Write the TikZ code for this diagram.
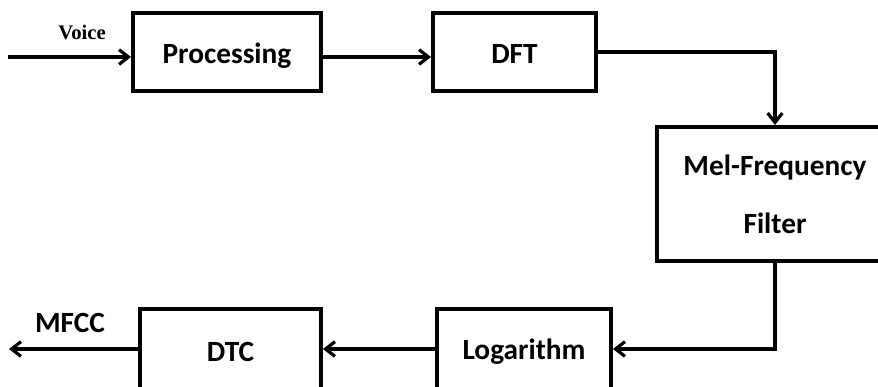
\documentclass[tikz,border=0pt]{standalone}
\usepackage{fontspec}
\newfontfamily\calfont{Carlito}
\newfontfamily\tmsfont{Liberation Serif}
\usetikzlibrary{arrows.meta}
\begin{document}
\begin{tikzpicture}[x=0.75pt,y=-0.75pt,
  blk/.style={draw=black, line width=3pt, rectangle, inner sep=0pt, fill=white,
    font=\calfont\bfseries\fontsize{22}{26}\selectfont, align=center},
  lowtext/.style={text height=22pt, text depth=5.5pt},
  conn/.style={line width=2.4pt, -{Straight Barb[length=7pt,width=11pt]}},
  wire/.style={line width=2.4pt}]
\useasboundingbox (0,0) rectangle (878,386);
\clip (0,0) rectangle (878,386);
\fill[white] (0,0) rectangle (878,386);
\node[blk, lowtext, minimum width=141pt, minimum height=58.5pt] (proc) at (227,52) {Processing};
\node[blk, lowtext, minimum width=122.25pt, minimum height=58.5pt] (dft) at (514.5,52) {DFT};
\node[blk, minimum width=177pt, minimum height=100.5pt,
  font=\calfont\bfseries\fontsize{22}{43.5}\selectfont] (mel) at (775,194) {Mel-Frequency\\Filter};
\node[blk, minimum width=130.5pt, minimum height=64.5pt] (log) at (524,352) {Logarithm};
\node[blk, minimum width=135.75pt, minimum height=64.5pt] (dtc) at (230.5,352) {DTC};
\coordinate (vin) at (8,57);
\coordinate (mout) at (9,349);
\node[font=\tmsfont\bfseries\fontsize{15.5}{18}\selectfont, inner sep=0pt] (voice) at (82,32) {Voice};
\node[font=\calfont\bfseries\fontsize{22}{26}\selectfont, inner sep=0pt] (mfcc) at (70,323) {MFCC};
\draw[conn] (vin) -- (proc.west |- vin);
\draw[conn] (proc.east |- vin) -- (dft.west |- vin);
\draw[conn] (dft.east) -| (mel.north);
\draw[conn] (mel.south) |- ([yshift=2.25pt]log.east);
\draw[conn] ([yshift=2.25pt]log.west) -- ([yshift=2.25pt]dtc.east);
\draw[conn] ([yshift=2.25pt]dtc.west) -- (mout);
\end{tikzpicture}
\end{document}
